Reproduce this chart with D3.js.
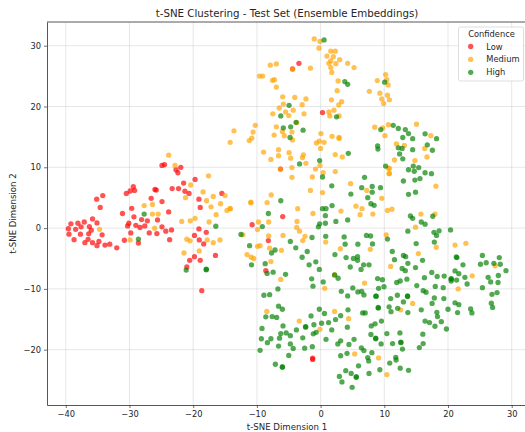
<!DOCTYPE html>
<html><head><meta charset="utf-8">
<script src="https://cdn.jsdelivr.net/npm/d3@7"></script>
<style>html,body{margin:0;padding:0;background:#fff}svg{display:block}text{font-family:"DejaVu Sans",sans-serif;fill:#262626}</style>
</head><body><div id="chart"></div>
<script>
const titleText = "t-SNE Clustering - Test Set (Ensemble Embeddings)";
const xLabel = "t-SNE Dimension 1";
const yLabel = "t-SNE Dimension 2";
const legendTitle = "Confidence";
const categories = ["Low","Medium","High"];
const colors = ["#ff0000","#ffa500","#008000"];
const xTicks = [-40,-30,-20,-10,0,10,20,30];
const yTicks = [-20,-10,0,10,20,30];

const lowPoints = [[-39.6,-0.1],[-39.2,0.7],[-39.5,-1],[-38.45,-0.2],[-38.1,0.8],[-37.6,0.2],[-37.1,1],[-38.7,-1.9],[-37.7,-1],[-36.3,0.25],[-35.8,1.5],[-35.1,0.85],[-36,-0.35],[-36.4,-0.95],[-34.3,-1.1],[-37,-2.4],[-36.5,-1.85],[-35.8,-2.4],[-34.8,-2.2],[-35.1,-2.9],[-33.85,-2.8],[-33.1,-2.65],[-32,-3.25],[-35.15,4.75],[-34.2,5.35],[-34.6,3.4],[-31.1,2.4],[-30.5,5.7],[-29.9,6.1],[-29.4,6.8],[-29.2,6.2],[-29.65,3.25],[-29.3,1.85],[-30.1,0.8],[-30.3,0.35],[-29.8,-0.8],[-29,0.45],[-28.35,0.1],[-28.1,1.4],[-27.6,0.36],[-27.2,1.2],[-30.8,-2],[-28.6,-2.45],[-26.9,-0.8],[-25.7,-0.9],[-25.6,1.35],[-24.9,0.2],[-24.3,-0.5],[-23.4,-0.3],[-23.7,-1.9],[-23.85,2.66],[-24.9,4.36],[-26.6,4.9],[-26,6.35],[-25.8,6.25],[-23.3,6.5],[-22.3,6.5],[-21.3,6.06],[-20.65,5.7],[-21.5,7.4],[-19.7,8],[-24.9,10.3],[-24.5,10.45],[-22.7,9.6],[-22.4,9.1],[-21.95,10],[-19.1,4.75],[-18.9,3.4],[-15.5,5.7],[-19.1,-0.13],[-19.8,-1.2],[-17.95,-0.7],[-19.05,-1.94],[-18.35,-2.6],[-19.8,-4.7],[-20.55,-5.3],[-18.9,-5.3],[-21,-6.4],[-16.5,-4.5],[-18.65,-10.3],[-4.4,26.2],[-3.4,27.1],[0.3,19],[-6.3,9.7],[-5.95,1.9],[-10.75,0.55],[-8.2,-2.05],[-8.6,-7],[-1.25,-21.4],[-1.25,-21.6]];

const mediumPoints = [[-34.7,-0.2],[-29.9,-1.94],[-27.7,3.7],[-26.4,3.9],[-26.4,2.3],[-25.5,2.3],[-26.05,-0.03],[-23.85,12],[-22.85,10.3],[-17.6,8.6],[-20.4,7.1],[-21.2,5],[-18.45,5.95],[-17.9,4.5],[-16.85,5.2],[-15,5.35],[-15.7,4],[-17.2,3.5],[-14.7,2.9],[-14.2,3.2],[-16.4,2.2],[-17.5,1],[-19.7,1.6],[-20.45,1.2],[-21.8,1.1],[-21,-1.83],[-20.5,-2.1],[-17.8,-1.94],[-16.85,-2.4],[-15.8,-1.94],[-19.05,-3.75],[-21.45,-4.1],
[-1,31.1],[-0.1,30.7],[-0.25,29.6],[1,28.3],[1.6,29.1],[2.3,29.1],[2,28.2],[1.6,27.5],[1.3,27.1],[2.4,27.05],[3,27.7],[1.6,26.4],[1.75,25.6],[4.25,27.1],[5.25,26.4],[-1.6,26.3],[-6.95,27],[-7.9,26.8],[-4.4,26.1],[-9.6,25],[-9.1,25],[-7.55,24.3],[-7.25,24.4],[-6.95,23.2],[2.75,24.2],[-5.95,21.6],[-4.05,21.5],[-2.3,21.25],[-5.85,20.4],[-6.5,19.75],[-2.9,20.3],[-5.5,19.1],[-4.3,19.4],[-5,18.5],[-7.5,18.8],[-2.6,18.8],[-3.75,17.35],[-6.95,16.65],[-13.6,16],[-10.25,16.9],[-10.6,15.8],[-10.8,14.8],[-11.2,14.4],[-14.2,14.1],[-5.7,15.2],[-6,15.9],[-4.5,15.8],[-7.3,15.3],[-4.4,14.5],[0.05,15.55],[0.55,14.1],[-0.2,14.3],[-0.65,14],[0,13.1],[1.8,15.1],[2.9,14.9],[2.9,14.75],[-6.6,12.9],[1.7,21.1],[2.6,22.6],[3.3,20.8],[2.85,20.25],[2.1,19.4],[1.3,19.1],[1.45,18.45],[2.9,18.45],[7.65,22.5],[8.9,24.26],[10.2,25.25],[10.4,24.4],[10.6,23.55],[9.3,22.2],[9.6,21.25],[10.5,21.85],[9.9,20.5],[10.8,21.1],[8.5,16.6],[9.75,16.5],[10.65,17],[10.1,15.2],
[-8.95,12.5],[-6.6,11.9],[-7.8,11.3],[-4.95,12.4],[-4.7,11.5],[-2.7,12.05],[-2.85,11.6],[-2.3,10.65],[-4.5,9.95],[-4.5,8.35],[-6.3,9.7],[-0.8,9.7],[-0.1,10.3],[0.4,9.1],[2.3,9.3],[-1.3,8.4],[2.3,12.1],[3.4,11.7],[-1.6,6.2],[0.3,5.85],[-7.75,5.45],[-8.4,4.2],[-10.95,4.25],[-10.95,4.15],[-14.2,3.2],[-3.6,3.2],[-1.2,2.4],[3.2,2.8],[4.7,7.3],[7.25,6.2],[9.6,4.9],[5.55,3.6],[6.5,3.2],[6.2,2.2],[8.2,2.3],[10.5,2.9],[-9.75,1],[-8.15,1],[-3.7,1.1],[-9.9,-0.25],[-3.75,0.1],[-3.3,-0.5],[-2.45,-1.35],[-2.8,-2.05],[0.8,-2.3],[-8.15,-1.3],[-5.9,-1.2],[-12.2,-1.1],[-9.9,-3],[-9.5,-2.9],[-8,-3.3],[-6.15,-3.65],[-11.55,-4.35],[-10.9,-4.8],[-10.5,-5],[3.1,-3.4],[7.8,-3.5],[10.3,-1.1],[10.65,9.85],[10.8,9],
[15.05,17.1],[17.3,15.2],[11.9,13.85],[13.15,13.6],[16.35,13.1],[16.7,11.7],[11.6,11.2],[14.8,11.1],[10.8,9.8],[10.75,8.95],[18.1,6.9],
[11.2,3.1],[15.75,2.3],[17.95,2.3],[14.9,0.15],[21.1,-2.8],[22.8,-2.5],[18.15,-3.15],[15.35,-4.2],[11,-6.3],[27.4,-6.2],[23.8,-7.85],[21.6,-10],[14.45,-12.4],[12.55,-13.45],
[-7.8,-5.5],[-6.25,-8.45],[0.65,-9.9],[6.9,-9.05],[2.2,-13.7],[4.4,-14.9],[-8.45,-13.7],[-3.35,-15.3],[-0.1,-16.65],[5.35,-20.7],[9.1,-21.35],[10.4,-24.1],[2.2,-7.7]];

const highPoints = [[-27.7,2.3],[-28.6,-1.8],[-16.45,0.3],[-21.1,-6.9],[-17.95,-6.75],[-17.95,-6.85],
[0.55,30.95],[3.8,24.1],[4.25,23.65],[10.05,24],[-4.95,20.2],[-6.25,18.45],[2.5,18.3],[-3.85,17.4],[-5.85,16.5],[-4.7,16.65],[-2.75,16.1],[-4.8,14.9],[9.45,16.2],[8.95,13.5],[9,13],
[4.35,12.3],[-0.15,11.1],[-3.3,10.55],[0.3,8.4],[1.75,6.95],[4.75,5.6],[6.45,6.65],[6.9,8.35],[8.1,6.85],[9.4,6.65],[8.1,5.9],[7.4,5],[7.9,4],[8.4,3.75],[10.2,10.2],[-6.25,4.5],[-8.2,2.4],[0.3,3.2],[0.85,3.2],[1.8,3.7],[0.75,2.05],[2.4,1.1],[4.25,1.35],[-0.15,0.7],[-0.35,0.2],[0.75,0.8],[-9.15,0.25],[-12.5,-1.05],[-11.15,-2.9],[-1.35,-1.55],[0.8,-1.35],[3.7,-1.45],[3.85,-2.65],[5.85,-2.65],[7.2,-1.2],[7.85,-1.3],[8.15,-2.6],[-4.75,-2.2],[-3.9,-3.25],[-7.15,-3.6],[-7.7,-4.1],[-2.1,-3.85],[-2.9,-4.8],[2.25,-4.35],[4,-4.85],[5.15,-5],[5.8,-4.7],[10.5,-1.8],
[11.4,16.9],[12.2,16.4],[13.3,16.2],[13.8,15.55],[12.9,14.9],[14.45,14.7],[16.4,15.5],[18.2,14.7],[16.75,13.7],[17.55,12.8],[14.45,12.9],[12.2,13.2],[12.8,13.1],[12.4,12.2],[12.9,11.4],[14.55,10.2],[13.8,9.6],[15.4,9.95],[14.7,9.35],[16.4,9.1],[17.4,8.95],[15.6,8.15],[14.8,7.9],[13,7.75],
[13.8,5.55],[14.9,5.9],[14.1,2],[14.45,1.6],[15.8,1],[16.4,0.65],[17.6,1.95],[13.7,-0.5],[17.8,-0.7],[18.6,-0.45],[18.2,-1.2],[20.4,-0.3],[15,-2.55],[17.85,-2.3],[11.25,-3.85],[11.6,-5.2],[13,-4.5],[13.35,-4.7],[13.7,-5.8],[16,-5.3],[12.8,-6.65],[13.3,-7],[14.9,-6.5],[17.45,-7.3],[21.3,-4.75],[21.4,-4.85],[22.35,-6.05],[21.1,-7.05],[21.7,-7.5],[18.3,-7.95],[19.4,-7.9],[16.3,-8.15],[13.55,-8.4],[12.5,-8.7],[11.95,-8.95],[8.95,-8.3],[9.7,-8.5],[9.1,-9.9],[9.95,-9.65],[15.1,-9.45],[18,-9.6],[19.25,-9.8],[20.5,-8.3],[20.5,-8.4],[20.5,-8.7],[21.35,-8.55],[22.65,-8.1],[23,-9.2],[25.4,-4.5],[25.1,-5.95],[26,-5.7],[27.2,-5.8],[28.05,-4.85],[28.2,-5.95],[29.1,-7],[27.9,-7.8],[26.3,-8.1],[26.7,-8.85],[27.85,-8.95],[25.4,-9.8],[27.7,-10.6],[26.9,-10.9],[26.8,-12.35],[27,-13.05],[8.65,-11.2],[11,-11.6],[12.05,-11.05],[13.65,-11.15],[13.65,-11.25],[16.1,-10.3],[16.55,-10.55],[17.85,-11.5],[19.35,-11.6],[17.5,-12.4],[13,-12.15],[10.75,-12.95],[12.1,-13.2],[9.05,-13.05],[9.05,-13.15],[21.1,-12.3],[21.7,-12.6],[20,-13.35],[23.55,-13.3],[15.8,-13.45],
[-10.85,-6.05],[-8.7,-5.85],[-8.4,-7.45],[-7.45,-7.25],[-5.5,-7.6],[-1.8,-6.05],[-0.75,-5.55],[-0.2,-6.8],[-1.4,-8.35],[0.4,-8.85],[-1.2,-9.55],[-6.7,-10],[-8.9,-11.05],[-8,-10.95],[-6.6,-12.85],[-6,-13.35],[-8.6,-14.6],[-7.6,-14.55],[-6.9,-14.7],[-9.2,-16.5],[-9.3,-18.2],[-8.35,-18.85],[-7.8,-18.2],[-6.25,-17.35],[-5.4,-17.25],[-4.75,-17.7],[-6.45,-18.1],[-5.9,-16.1],[-6.6,-19.4],[-9.5,-20.1],[-4.75,-19.05],[-4.3,-19.8],[-3.8,-16.75],[-2.8,-18.05],[-2.5,-19.75],[-1.3,-19.5],[-5,-20.95],[-7.1,-22.4],[-6,-22.8],[-6,-22.9],[-2.35,-16.2],[-2.35,-16.3],[-1.5,-14.45],[-1.05,-15.9],[0.15,-15.65],[-0.7,-17.15],[-1.15,-17.4],[1.25,-15.55],[1.75,-16.75],[2.35,-15.05],[3.15,-14.4],[-0.2,-13.35],[0.6,-14.05],[4.3,-13.45],[4.2,-16.3],[0.85,-18.3],[2.7,-19.05],[3.15,-18.55],[5.25,-18.3],[4.45,-19.15],[3.15,-21],[4.15,-20.6],[5.95,-22.65],[6.4,-19.7],[6.8,-20.15],[8.05,-20.5],[7.4,-21.3],[7.55,-21.85],[10.85,-22.2],[9.3,-23.3],[11.8,-21.25],[11.85,-21.7],[12.5,-23.05],[3.95,-23.45],[4.8,-23.9],[5.6,-24.45],[5.6,-24.55],[2.95,-24.4],[6.6,-13.95],[7,-13.95],[3.25,-10.4],[4.25,-11.15],[5.05,-9.85],[5.85,-10.5],[6.45,-10.4],[6.8,-11],[8.75,-11.2],[2.75,-8.25],[2.2,-7.7],[4.65,-6.4],[5.8,-5.3],[6.75,-6.05],[7.6,-6.05],[6.35,-6.8],[9.55,-15.3],[8.55,-15.75],[7.95,-16.1],[7.9,-17.5],[8.65,-18.1],[8.65,-18.2],[9.5,-19.05],[10.4,-17.35],[11.3,-19],[11.05,-13.75],
[13.7,-13.9],[18.25,-13.85],[18.35,-14.55],[18.95,-15.4],[21.5,-13.9],[23.75,-13.95],[16.4,-15.3],[17.1,-15.55],[17.95,-16.15],[19.75,-16.6],[12.45,-17.25],[12.6,-18.75],[12.6,-18.85],[12.85,-19.9],[16.05,-17.45],[16.1,-19],[15.5,-19.65],[13.8,-23.4],[7.6,-23.9],[3.35,-25.3],[4.95,-26.2]];

const W = 525, H = 432;
const m = {left:47, right:527, top:22, bottom:405};
const x = d3.scaleLinear().domain([-42.95,32.4]).range([m.left,m.right]);
const y = d3.scaleLinear().domain([33.9,-29.1]).range([m.top,m.bottom]);
const svg = d3.select("#chart").append("svg").attr("width",W).attr("height",H);

const grid = svg.append("g");
grid.selectAll(".gx").data(xTicks).join("line").attr("x1",d=>x(d)).attr("x2",d=>x(d)).attr("y1",m.top).attr("y2",m.bottom).attr("stroke","#b0b0b0").attr("stroke-opacity",0.3).attr("stroke-width",1);
grid.selectAll(".gy").data(yTicks).join("line").attr("y1",d=>y(d)).attr("y2",d=>y(d)).attr("x1",m.left).attr("x2",m.right).attr("stroke","#b0b0b0").attr("stroke-opacity",0.3).attr("stroke-width",1);

const series = [lowPoints,mediumPoints,highPoints];
series.forEach((pts,i)=>{
  svg.append("g").selectAll("circle").data(pts).join("circle")
    .attr("cx",d=>x(d[0])).attr("cy",d=>y(d[1])).attr("r",2.65)
    .attr("fill",colors[i]).attr("fill-opacity",0.68);
});

const fmt = d=> d<0 ? "\u2212"+Math.abs(d) : ""+d;
const ax = svg.append("g").attr("transform",`translate(0,${m.bottom})`).call(d3.axisBottom(x).tickValues(xTicks).tickFormat(fmt).tickSizeInner(3).tickSizeOuter(0).tickPadding(3));
const ay = svg.append("g").attr("transform",`translate(${m.left},0)`).call(d3.axisLeft(y).tickValues(yTicks).tickFormat(fmt).tickSizeInner(3).tickSizeOuter(0).tickPadding(3));
[ax,ay].forEach(a=>{
  a.selectAll("text").attr("font-size",8.3).attr("font-family","DejaVu Sans").attr("fill","#262626");
  a.selectAll("line").attr("stroke","#333").attr("stroke-width",0.7);
  a.select(".domain").attr("stroke","#444").attr("stroke-width",0.9);
});
svg.append("line").attr("x1",m.left).attr("x2",m.right).attr("y1",m.top).attr("y2",m.top).attr("stroke","#444").attr("stroke-width",0.9);

svg.append("text").attr("x",287).attr("y",17).attr("text-anchor","middle").attr("font-size",10.25).text(titleText);
svg.append("text").attr("x",287).attr("y",430).attr("text-anchor","middle").attr("font-size",8.6).text(xLabel);
svg.append("text").attr("transform","translate(16,213.5) rotate(-90)").attr("text-anchor","middle").attr("font-size",8.6).text(yLabel);

const lg = svg.append("g");
lg.append("rect").attr("x",458.5).attr("y",27).attr("width",65).attr("height",54).attr("rx",2).attr("fill","#fff").attr("fill-opacity",0.85).attr("stroke","#d5d5d5").attr("stroke-width",0.8);
lg.append("text").attr("x",491.5).attr("y",37).attr("text-anchor","middle").attr("font-size",8.3).text(legendTitle);
categories.forEach((c,i)=>{
  const yy = 46.5+i*12.9;
  lg.append("circle").attr("cx",470.7).attr("cy",yy).attr("r",2.65).attr("fill",colors[i]).attr("fill-opacity",0.68);
  lg.append("text").attr("x",486.3).attr("y",yy+3).attr("font-size",8.3).text(c);
});
</script></body></html>
